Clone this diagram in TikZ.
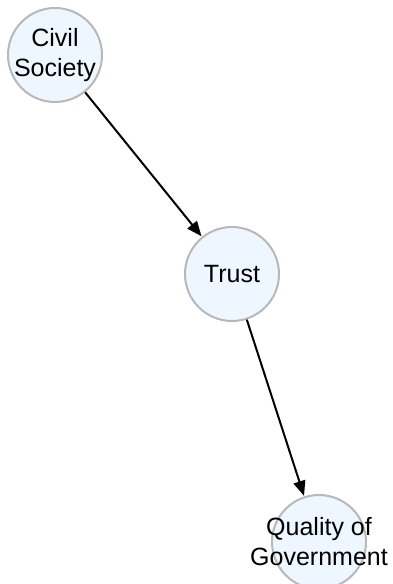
\documentclass[tikz,border=0pt]{standalone}
\usepackage{fontspec}
\setmainfont{Liberation Sans}
\usetikzlibrary{arrows.meta}
\definecolor{nodefill}{HTML}{EEF6FF}
\definecolor{nodeline}{HTML}{B8B8B8}
% Zero-width line so long labels overflow the circle instead of growing it
\newcommand{\ovl}[1]{\makebox[0pt]{#1}}
\tikzset{
  var/.style={circle, draw=nodeline, fill=nodefill, line width=2pt,
    minimum size=94pt, inner sep=0pt, align=center,
    font=\fontsize{25}{30}\selectfont},
  link/.style={draw=black, line width=2pt,
    -{Triangle[length=15pt,width=12pt]}, shorten >=0.5pt}
}
\begin{document}
\begin{tikzpicture}[x=1pt,y=-1pt]
  \useasboundingbox (0,0) rectangle (392,584);
  \node[var] (civil) at (55,55) {\ovl{Civil}\\\ovl{Society}};
  \node[var] (trust) at (232,274) {Trust};
  \node[var] (qog) at (319,542) {\ovl{Quality of}\\\ovl{Government}};
  \draw[link] (civil) -- (trust);
  \draw[link] (trust) -- (qog);
\end{tikzpicture}
\end{document}
